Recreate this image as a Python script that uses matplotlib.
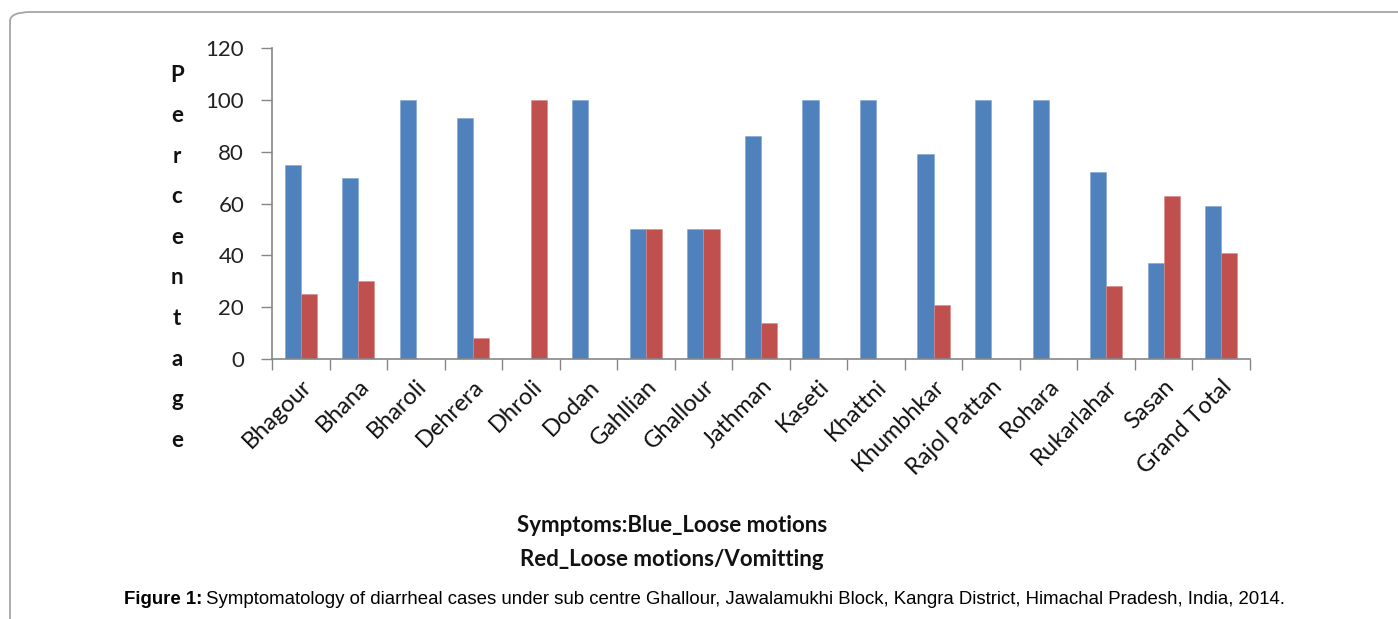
import numpy as np
import matplotlib.pyplot as plt
from matplotlib.patches import FancyBboxPatch

# Dati (percentuali)
villages = ["Bhagour", "Bhana", "Bharoli", "Dehrera", "Dhroli", "Dodan", "Gahllian",
            "Ghallour", "Jathman", "Kaseti", "Khattni", "Khumbhkar", "Rajol Pattan",
            "Rohara", "Rukarlahar", "Sasan", "Grand Total"]
loose_motions = [75, 70, 100, 93, 0, 100, 50, 50, 86, 100, 100, 79, 100, 100, 72, 37, 59]
loose_vomiting = [25, 30, 0, 8, 100, 0, 50, 50, 14, 0, 0, 21, 0, 0, 28, 63, 41]
yticks = [0, 20, 40, 60, 80, 100, 120]

BLUE = "#4F81BD"
RED = "#C0504D"
GRAY = "#868686"
W, H = 1398, 619

fig = plt.figure(figsize=(W / 100, H / 100), dpi=100)
ax = fig.add_axes([272 / W, 1 - 359 / H, (1250 - 272) / W, (359 - 48) / H])

x = np.arange(len(villages))
bw = 0.28
ax.bar(x - bw / 2, loose_motions, bw, color=BLUE, edgecolor="#7FA3D3", linewidth=0.4)
ax.bar(x + bw / 2, loose_vomiting, bw, color=RED, edgecolor="#D98A88", linewidth=0.4)

ax.set_xlim(-0.5, len(villages) - 0.5)
ax.set_ylim(0, 120)
ax.set_yticks(yticks)
ax.set_yticklabels([str(v) for v in yticks], fontsize=16, family="Lato", color="#222222")
ax.tick_params(axis="y", length=8, color=GRAY, width=1, pad=12)

# tick tra le categorie, stile Excel
ax.set_xticks(x)
ax.set_xticklabels(villages, rotation=45, ha="right", va="top", rotation_mode="anchor",
                   fontsize=17, family="Lato", color="#111111")
ax.tick_params(axis="x", which="major", length=0, pad=12)
ax.set_xticks(np.arange(-0.5, len(villages), 1), minor=True)
ax.tick_params(axis="x", which="minor", length=8, color=GRAY, width=1)

for s in ["top", "right"]:
    ax.spines[s].set_visible(False)
for s in ["left", "bottom"]:
    ax.spines[s].set_color(GRAY)
    ax.spines[s].set_linewidth(1.2)

# etichetta asse y, una lettera per riga
for i, ch in enumerate("Percentage"):
    fig.text(177 / W, 1 - (75 + i * 40.6) / H, ch, ha="center", va="center",
             fontsize=16, fontweight="bold", family="Lato", color="#111111")

fig.text(672 / W, 1 - 526 / H, "Symptoms:Blue_Loose motions", ha="center", va="center",
         fontsize=16, fontweight="bold", family="Lato", color="#111111")
fig.text(672 / W, 1 - 559 / H, "Red_Loose motions/Vomitting", ha="center", va="center",
         fontsize=16, fontweight="bold", family="Lato", color="#111111")

# didascalia
cap_y = 1 - 600 / H
t1 = fig.text(124 / W, cap_y, "Figure 1:", ha="left", va="center",
              fontsize=13.4, fontweight="bold", family="Liberation Sans")
fig.canvas.draw()
bb = t1.get_window_extent()
fig.text(bb.x1 / W + 4 / W, cap_y,
         "Symptomatology of diarrheal cases under sub centre Ghallour, Jawalamukhi Block, "
         "Kangra District, Himachal Pradesh, India, 2014.",
         ha="left", va="center", fontsize=13.4, family="Liberation Sans")

# cornice arrotondata (esce a destra e in basso)
box = FancyBboxPatch((10 / W, -0.1), 1.1, 1 - 12 / H + 0.1,
                     boxstyle="round,pad=0,rounding_size=0.015", transform=fig.transFigure,
                     fill=False, edgecolor="#A8A4A4", linewidth=1.3)
fig.patches.append(box)

fig.savefig("out.png", dpi=100)
